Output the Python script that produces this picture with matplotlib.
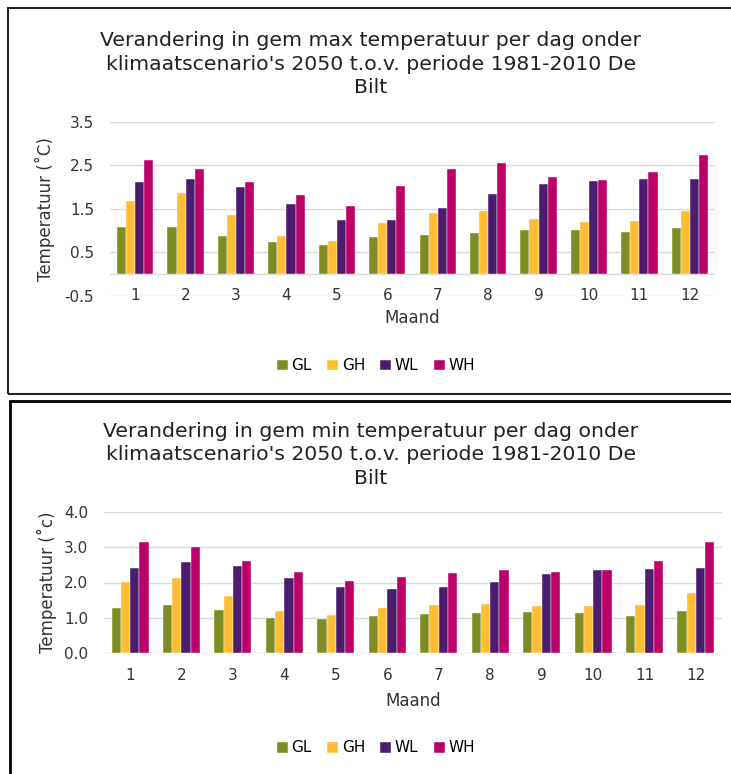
import numpy as np
import matplotlib.pyplot as plt
from matplotlib.patches import Rectangle
from matplotlib.transforms import blended_transform_factory

# data
months = ['1', '2', '3', '4', '5', '6', '7', '8', '9', '10', '11', '12']
scenarios = ['GL', 'GH', 'WL', 'WH']
colors = ['#7F8C23', '#FFBD33', '#4D1C6E', '#BB006A']

max_gl = [1.08, 1.09, 0.88, 0.73, 0.67, 0.85, 0.89, 0.95, 1.02, 1.02, 0.98, 1.06]
max_gh = [1.69, 1.87, 1.37, 0.88, 0.76, 1.18, 1.41, 1.45, 1.26, 1.20, 1.23, 1.46]
max_wl = [2.12, 2.19, 1.99, 1.62, 1.25, 1.24, 1.53, 1.85, 2.06, 2.15, 2.19, 2.19]
max_wh = [2.61, 2.42, 2.11, 1.82, 1.57, 2.02, 2.42, 2.55, 2.24, 2.16, 2.35, 2.73]

min_gl = [1.28, 1.37, 1.21, 0.99, 0.96, 1.05, 1.10, 1.13, 1.15, 1.14, 1.06, 1.19]
min_gh = [2.02, 2.14, 1.63, 1.18, 1.07, 1.29, 1.37, 1.38, 1.33, 1.33, 1.36, 1.69]
min_wl = [2.42, 2.58, 2.47, 2.14, 1.88, 1.82, 1.88, 2.01, 2.23, 2.36, 2.37, 2.41]
min_wh = [3.16, 3.00, 2.61, 2.31, 2.05, 2.15, 2.26, 2.35, 2.30, 2.36, 2.62, 3.14]

max_ticks = [-0.5, 0.5, 1.5, 2.5, 3.5]
min_ticks = [0.0, 1.0, 2.0, 3.0, 4.0]

W, H = 731, 774


def fx(px):
    return px / W


def fy(py):
    return 1 - py / H


def draw_panel(fig, rect, series, ylim, yticks, ylabel, title, title_y,
               legend_y, maand_y, ylabel_x, month_y):
    ax = fig.add_axes(rect)
    x = np.arange(1, 13)
    bw = 0.18
    for i, (vals, c, name) in enumerate(zip(series, colors, scenarios)):
        ax.bar(x + (i - 1.5) * bw, vals, bw, color=c, label=name,
               edgecolor='white', linewidth=0.3, zorder=3)
    ax.set_xlim(0.5, 12.5)
    ax.set_ylim(*ylim)
    ax.set_yticks(yticks)
    ax.set_yticklabels(['%.1f' % t for t in yticks], fontsize=11,
                       color='#333333')
    ax.grid(axis='y', color='#D9D9D9', linewidth=1, zorder=0)
    ax.axhline(0, color='#D9D9D9', linewidth=1, zorder=1)
    for s in ax.spines.values():
        s.set_visible(False)
    ax.tick_params(axis='y', length=0, pad=11.5)
    ax.set_xticks(x)
    ax.set_xticklabels([])
    ax.tick_params(axis='x', length=0)
    trans = blended_transform_factory(ax.transData, fig.transFigure)
    for xi, m in zip(x, months):
        ax.text(xi, fy(month_y), m, ha='center', va='center', fontsize=11,
                color='#333333', zorder=4, transform=trans)
    cx = rect[0] + rect[2] / 2
    fig.text(cx, fy(maand_y), 'Maand', ha='center', va='center', fontsize=12,
             color='#333333')
    fig.text(fx(ylabel_x), rect[1] + rect[3] / 2, ylabel, rotation=90,
             ha='center', va='center', fontsize=12, color='#333333')
    fig.text(fx(371), fy(title_y), title, ha='center', va='center',
             fontsize=14.7, color='#222222', linespacing=1.32)
    handles, labels = ax.get_legend_handles_labels()
    fig.legend(handles, labels, loc='center', ncol=4,
               bbox_to_anchor=(fx(376), fy(legend_y)), frameon=False,
               fontsize=11, handlelength=0.7, handleheight=0.7,
               handletextpad=0.25, columnspacing=1.0)
    return ax


def main():
    fig = plt.figure(figsize=(W / 100, H / 100), dpi=100)

    # panel frames
    fig.patches.append(Rectangle((fx(8), fy(394)), fx(760), (394 - 8) / H,
                                 transform=fig.transFigure, fill=False,
                                 edgecolor='#222222', linewidth=1.5))
    fig.patches.append(Rectangle((fx(10), fy(800)), fx(760), (800 - 401) / H,
                                 transform=fig.transFigure, fill=False,
                                 edgecolor='black', linewidth=2))

    title_max = ("Verandering in gem max temperatuur per dag onder\n"
                 "klimaatscenario's 2050 t.o.v. periode 1981-2010 De\nBilt")
    title_min = ("Verandering in gem min temperatuur per dag onder\n"
                 "klimaatscenario's 2050 t.o.v. periode 1981-2010 De\nBilt")

    draw_panel(fig, [fx(110), fy(296), fx(605), (296 - 121.7) / H],
               [max_gl, max_gh, max_wl, max_wh], (-0.5, 3.5), max_ticks,
               'Temperatuur (˚C)', title_max, 64, 366, 318, 45, 296)
    draw_panel(fig, [fx(104.3), fy(653), fx(617.4), (653 - 512) / H],
               [min_gl, min_gh, min_wl, min_wh], (0.0, 4.0), min_ticks,
               'Temperatuur (˚c)', title_min, 455, 748, 701, 47, 675)

    fig.savefig('out.png', dpi=100)


if __name__ == "__main__":
    main()
